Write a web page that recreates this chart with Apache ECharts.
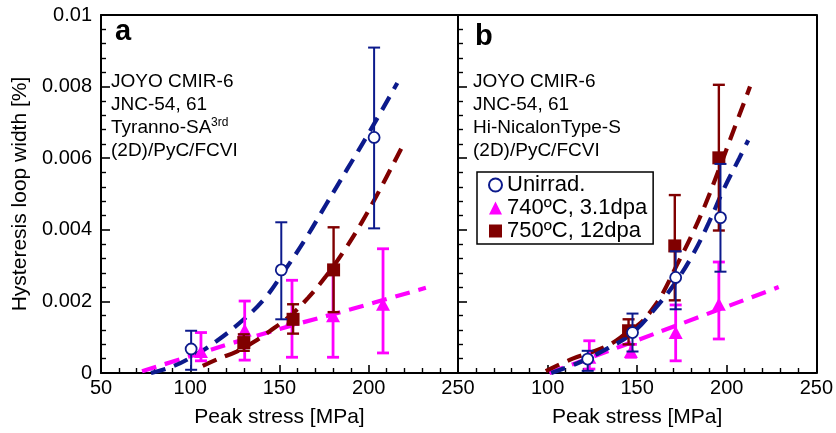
<!DOCTYPE html>
<html><head><meta charset="utf-8">
<script src="https://cdn.jsdelivr.net/npm/echarts@6/dist/echarts.min.js"></script>
<style>html,body{margin:0;padding:0;background:#fff}#c{width:836px;height:433px}</style>
</head><body><div id="c"></div>
<script>
// ---------- Panel a : Tyranno-SA3rd ----------
const aUnirrX  = [100.5, 151, 203];
const aUnirrY  = [0.00067, 0.00288, 0.00658];
const aUnirrLo = [0.00009, 0.0015, 0.00404];
const aUnirrHi = [0.00118, 0.00421, 0.00909];

const a740X  = [106, 130.5, 157, 180, 208];
const a740Y  = [0.0006, 0.0012, 0.0015, 0.0016, 0.00192];
const a740Lo = [0.00034, 0.00036, 0.00044, 0.00044, 0.00056];
const a740Hi = [0.00113, 0.00201, 0.00259, 0.0028, 0.00347];

const a750X  = [130, 157.6, 180.3];
const a750Y  = [0.00085, 0.0015, 0.00288];
const a750Lo = [0.00062, 0.0011, 0.0017];
const a750Hi = [0.00108, 0.00192, 0.00407];

const aFitUnirrX = [78, 90, 101, 115, 130, 142, 152, 164, 176, 188, 200, 216];
const aFitUnirrY = [0, 0.00018, 0.00045, 0.0009, 0.0015, 0.0021, 0.0028, 0.0037, 0.0047, 0.0057, 0.0067, 0.0081];
const aFit740X = [73, 100, 131, 160, 190, 232];
const aFit740Y = [0.00005, 0.00047, 0.00095, 0.00137, 0.00178, 0.00238];
const aFit750X = [107, 116, 126, 136, 146, 156, 166, 176, 186, 196, 206, 218.5];
const aFit750Y = [0.0002, 0.0004, 0.0006, 0.00088, 0.00122, 0.0016, 0.0021, 0.0027, 0.0034, 0.0042, 0.0051, 0.0063];

// ---------- Panel b : Hi-Nicalon Type-S ----------
const bUnirrX  = [122.4, 147.4, 171.5, 196.5];
const bUnirrY  = [0.00039, 0.00113, 0.00267, 0.00434];
const bUnirrLo = [0.00006, 0.0006, 0.00178, 0.00283];
const bUnirrHi = [0.00062, 0.00166, 0.0034, 0.00584];

const b740X  = [123.3, 146.5, 171.5, 195.6];
const b740Y  = [0.00044, 0.0006, 0.00113, 0.00192];
const b740Lo = [0.00011, 0.00044, 0.00034, 0.00095];
const b740Hi = [0.0009, 0.0008, 0.0019, 0.0031];

const b750X  = [145.2, 171, 195.6];
const b750Y  = [0.00118, 0.00355, 0.00601];
const b750Lo = [0.0008, 0.00203, 0.00398];
const b750Hi = [0.0015, 0.00497, 0.00805];

const bFitUnirrX = [102, 118, 134, 147, 160, 171, 181, 190, 198, 207, 212];
const bFitUnirrY = [0, 0.0003, 0.0007, 0.0011, 0.0018, 0.0025, 0.0033, 0.0042, 0.0051, 0.006, 0.0065];
const bFit740X = [101, 162, 229];
const bFit740Y = [0, 0.00114, 0.0024];
const bFit750X = [99, 114, 133, 145, 152, 158, 164, 172, 180, 188, 195, 201, 213];
const bFit750Y = [0.00005, 0.0004, 0.00075, 0.00115, 0.0014, 0.00175, 0.0022, 0.003, 0.0038, 0.0047, 0.0056, 0.0064, 0.008];

// axes
const xMin = 50, xMax = 250, xStep = 50;
const yMin = 0, yMax = 0.01, yStep = 0.002;
const names = ['Unirrad.', '740ºC, 3.1dpa', '750ºC, 12dpa'];

const BLUE = '#0c1a8c', MAG = '#ff00ff', RED = '#800000';
const FONT = 'Liberation Sans, Arial, sans-serif';

const zip2 = (xs, ys) => xs.map((x, i) => [x, ys[i]]);
const zip3 = (xs, lo, hi) => xs.map((x, i) => [x, lo[i], hi[i]]);

function errSeries(idx, data, color, w, z) {
  return {
    type: 'custom', xAxisIndex: idx, yAxisIndex: idx, z: z, silent: true,
    data: data, encode: { x: 0, y: [1, 2] },
    renderItem: function (params, api) {
      const x = api.value(0);
      const p1 = api.coord([x, api.value(1)]);
      const p2 = api.coord([x, api.value(2)]);
      const hw = 6;
      const st = { stroke: color, lineWidth: w };
      return { type: 'group', children: [
        { type: 'line', shape: { x1: p1[0], y1: p1[1], x2: p2[0], y2: p2[1] }, style: st },
        { type: 'line', shape: { x1: p1[0] - hw, y1: p1[1], x2: p1[0] + hw, y2: p1[1] }, style: st },
        { type: 'line', shape: { x1: p2[0] - hw, y1: p2[1], x2: p2[0] + hw, y2: p2[1] }, style: st }
      ]};
    }
  };
}
function fitSeries(idx, xs, ys, color) {
  return { type: 'line', xAxisIndex: idx, yAxisIndex: idx, data: zip2(xs, ys), smooth: 0.4,
    showSymbol: false, symbol: 'none', z: 2, silent: true,
    lineStyle: { color: color, width: 4.2, type: [15, 9] } };
}
function markSeries(idx, name, xs, ys, kind, z) {
  const s = { type: 'scatter', name: name, xAxisIndex: idx, yAxisIndex: idx, data: zip2(xs, ys), z: z, silent: true };
  if (kind === 0) { s.symbol = 'circle'; s.symbolSize = 11; s.itemStyle = { color: '#fff', borderColor: BLUE, borderWidth: 1.8, opacity: 1 }; }
  if (kind === 1) { s.symbol = 'triangle'; s.symbolSize = [14, 13]; s.itemStyle = { color: MAG, opacity: 1 }; }
  if (kind === 2) { s.symbol = 'rect'; s.symbolSize = 13; s.itemStyle = { color: RED, opacity: 1 }; }
  return s;
}

function xAx(grid, labels, hideMin) {
  return [{
    type: 'value', gridIndex: grid, min: xMin, max: xMax, interval: xStep, position: 'bottom',
    name: labels ? 'Peak stress [MPa]' : '', nameLocation: 'middle', nameGap: 34,
    nameTextStyle: { fontFamily: FONT, fontSize: 21, color: '#000' },
    axisLine: { show: true, onZero: false, lineStyle: { color: '#000', width: 2 } },
    axisTick: { show: true, inside: true, length: 8, lineStyle: { color: '#000', width: 1.6 } },
    minorTick: { show: true, splitNumber: 5, length: 5, lineStyle: { color: '#000', width: 1.4 } },
    axisLabel: { show: true, showMinLabel: !hideMin, margin: 5, fontFamily: FONT, fontSize: 20, color: '#000' },
    splitLine: { show: false }
  }, {
    type: 'value', gridIndex: grid, min: xMin, max: xMax, interval: xStep, position: 'top',
    axisLine: { show: true, onZero: false, lineStyle: { color: '#000', width: 2 } },
    axisTick: { show: false }, axisLabel: { show: false }, splitLine: { show: false }
  }];
}
function yAx(grid, labels) {
  return [{
    type: 'value', gridIndex: grid, min: yMin, max: yMax, interval: yStep, position: 'left',
    name: labels ? 'Hysteresis loop width [%]' : '', nameLocation: 'middle', nameGap: 70,
    nameTextStyle: { fontFamily: FONT, fontSize: 21, color: '#000' },
    axisLine: { show: true, onZero: false, lineStyle: { color: '#000', width: 2 } },
    axisTick: { show: true, inside: true, length: 9, lineStyle: { color: '#000', width: 1.6 } },
    minorTick: { show: true, splitNumber: 5, length: 5, lineStyle: { color: '#000', width: 1.4 } },
    axisLabel: { show: labels, margin: 9, fontFamily: FONT, fontSize: 20, color: '#000' },
    splitLine: { show: false }
  }, {
    type: 'value', gridIndex: grid, min: yMin, max: yMax, interval: yStep, position: 'right',
    axisLine: { show: true, onZero: false, lineStyle: { color: '#000', width: 2 } },
    axisTick: { show: false }, axisLabel: { show: false }, splitLine: { show: false }
  }];
}

const xAxes = [...xAx(0, true, false), ...xAx(1, true, true)];
const yAxes = [...yAx(0, true), ...yAx(1, false)];

// axis index: panel a series use 0, panel b series use 2
const series = [
  fitSeries(0, aFit740X, aFit740Y, MAG),
  fitSeries(0, aFit750X, aFit750Y, RED),
  fitSeries(0, aFitUnirrX, aFitUnirrY, BLUE),
  errSeries(0, zip3(a740X, a740Lo, a740Hi), MAG, 2.8, 3),
  markSeries(0, names[1], a740X, a740Y, 1, 4),
  errSeries(0, zip3(a750X, a750Lo, a750Hi), RED, 2.4, 5),
  markSeries(0, names[2], a750X, a750Y, 2, 6),
  errSeries(0, zip3(aUnirrX, aUnirrLo, aUnirrHi), BLUE, 2, 7),
  markSeries(0, names[0], aUnirrX, aUnirrY, 0, 8),

  fitSeries(2, bFit740X, bFit740Y, MAG),
  errSeries(2, zip3(b740X, b740Lo, b740Hi), MAG, 2.8, 3),
  markSeries(2, names[1], b740X, b740Y, 1, 4),
  errSeries(2, zip3(b750X, b750Lo, b750Hi), RED, 2.4, 5),
  markSeries(2, names[2], b750X, b750Y, 2, 6),
  errSeries(2, zip3(bUnirrX, bUnirrLo, bUnirrHi), BLUE, 2, 7),
  markSeries(2, names[0], bUnirrX, bUnirrY, 0, 8),
  fitSeries(2, bFit750X, bFit750Y, RED),
  fitSeries(2, bFitUnirrX, bFitUnirrY, BLUE)
];

const txt = (x, y, s, size, bold) => ({ type: 'text', left: x, top: y, z: 100, silent: true,
  style: { text: s, fontFamily: FONT, fontSize: size, fontWeight: bold ? 'bold' : 'normal', fill: '#000' } });

const chart = echarts.init(document.getElementById('c'), null, { renderer: 'canvas' });
chart.setOption({
  animation: false,
  backgroundColor: '#fff',
  grid: [
    { left: 101, top: 15, width: 357, height: 359 },
    { left: 458, top: 15, width: 360, height: 359 }
  ],
  xAxis: xAxes,
  yAxis: yAxes,
  legend: {
    data: names, orient: 'vertical', left: 477, top: 172, selectedMode: false,
    borderColor: '#000', borderWidth: 1.5, padding: [2, 6, 2, 11], itemGap: 1,
    itemWidth: 13, itemHeight: 13,
    textStyle: { fontFamily: FONT, fontSize: 22, color: '#000', lineHeight: 22 }
  },
  graphic: [
    txt(115, 17, 'a', 29, true),
    txt(475, 22, 'b', 29, true),
    txt(111, 72, 'JOYO CMIR-6', 19),
    txt(111, 95, 'JNC-54, 61', 19),
    txt(111, 118, 'Tyranno-SA', 19),
    txt(211, 117, '3rd', 12),
    txt(111, 141, '(2D)/PyC/FCVI', 19),
    txt(473, 72, 'JOYO CMIR-6', 19),
    txt(473, 95, 'JNC-54, 61', 19),
    txt(473, 118, 'Hi-NicalonType-S', 19),
    txt(473, 141, '(2D)/PyC/FCVI', 19)
  ],
  series: series
});
</script></body></html>
